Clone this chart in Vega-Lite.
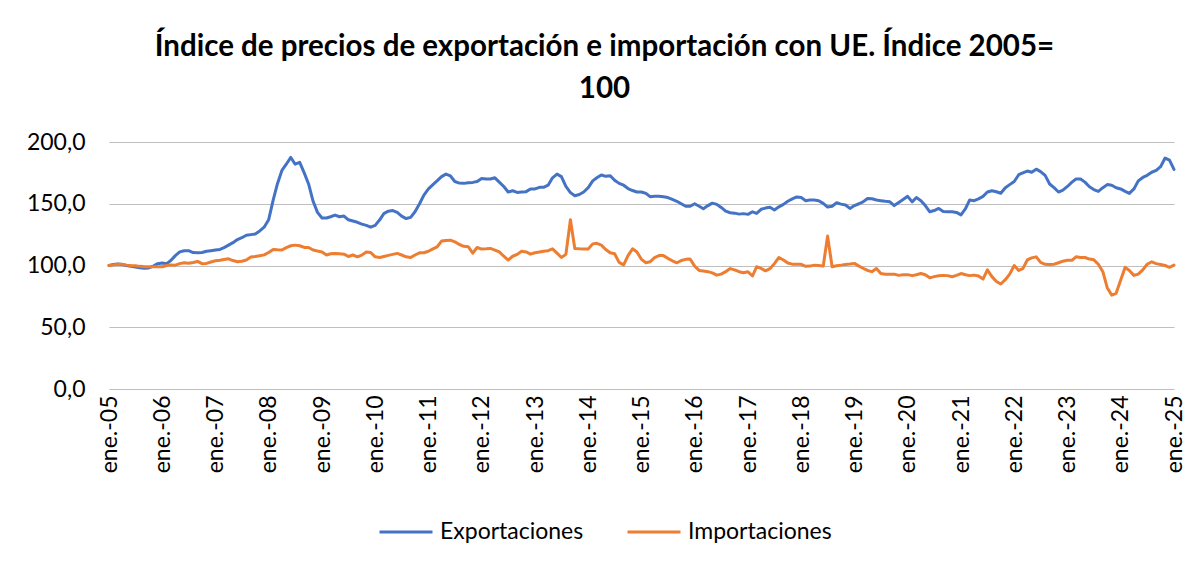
{
  "$schema": "https://vega.github.io/schema/vega-lite/v6.json",
  "autosize": "none",
  "width": 1065,
  "height": 247,
  "padding": {"left": 109, "top": 142, "right": 20, "bottom": 177},
  "background": "white",
  "config": {"view": {"stroke": null}, "font": "Lato"},
  "title": {
    "text": ["Índice de precios de exportación e importación con UE. Índice 2005=", "100"],
    "font": "Lato", "fontSize": 29.5, "fontWeight": "bold", "color": "#000000",
    "anchor": "middle", "frame": "group", "dx": -37, "offset": 27, "lineHeight": 42
  },
  "data": {"values": [
    {"fecha":"2005-01-01","Exportaciones":100,"Importaciones":100},
    {"fecha":"2005-02-01","Exportaciones":100.8,"Importaciones":100.5},
    {"fecha":"2005-03-01","Exportaciones":101.3,"Importaciones":101},
    {"fecha":"2005-04-01","Exportaciones":100.8,"Importaciones":101},
    {"fecha":"2005-05-01","Exportaciones":100,"Importaciones":100.3},
    {"fecha":"2005-06-01","Exportaciones":99.3,"Importaciones":100},
    {"fecha":"2005-07-01","Exportaciones":98.8,"Importaciones":99.8},
    {"fecha":"2005-08-01","Exportaciones":98.2,"Importaciones":99.3},
    {"fecha":"2005-09-01","Exportaciones":97.8,"Importaciones":99},
    {"fecha":"2005-10-01","Exportaciones":98,"Importaciones":99},
    {"fecha":"2005-11-01","Exportaciones":99.5,"Importaciones":99},
    {"fecha":"2005-12-01","Exportaciones":101.5,"Importaciones":99},
    {"fecha":"2006-01-01","Exportaciones":102,"Importaciones":99},
    {"fecha":"2006-02-01","Exportaciones":101.5,"Importaciones":100},
    {"fecha":"2006-03-01","Exportaciones":104,"Importaciones":100.5},
    {"fecha":"2006-04-01","Exportaciones":108,"Importaciones":100.3},
    {"fecha":"2006-05-01","Exportaciones":111,"Importaciones":101.5},
    {"fecha":"2006-06-01","Exportaciones":112,"Importaciones":102.2},
    {"fecha":"2006-07-01","Exportaciones":112,"Importaciones":101.8},
    {"fecha":"2006-08-01","Exportaciones":110.5,"Importaciones":102.5},
    {"fecha":"2006-09-01","Exportaciones":110.3,"Importaciones":103.3},
    {"fecha":"2006-10-01","Exportaciones":110.5,"Importaciones":101.5},
    {"fecha":"2006-11-01","Exportaciones":111.5,"Importaciones":101.7},
    {"fecha":"2006-12-01","Exportaciones":112,"Importaciones":102.8},
    {"fecha":"2007-01-01","Exportaciones":112.5,"Importaciones":103.8},
    {"fecha":"2007-02-01","Exportaciones":113,"Importaciones":104.2},
    {"fecha":"2007-03-01","Exportaciones":114.5,"Importaciones":104.8},
    {"fecha":"2007-04-01","Exportaciones":116.5,"Importaciones":105.4},
    {"fecha":"2007-05-01","Exportaciones":118.5,"Importaciones":104},
    {"fecha":"2007-06-01","Exportaciones":121,"Importaciones":103},
    {"fecha":"2007-07-01","Exportaciones":122.5,"Importaciones":103.5},
    {"fecha":"2007-08-01","Exportaciones":124.5,"Importaciones":104.4},
    {"fecha":"2007-09-01","Exportaciones":125,"Importaciones":106.8},
    {"fecha":"2007-10-01","Exportaciones":125.5,"Importaciones":107.3},
    {"fecha":"2007-11-01","Exportaciones":128,"Importaciones":107.9},
    {"fecha":"2007-12-01","Exportaciones":131,"Importaciones":108.6},
    {"fecha":"2008-01-01","Exportaciones":137,"Importaciones":110.5},
    {"fecha":"2008-02-01","Exportaciones":153,"Importaciones":113},
    {"fecha":"2008-03-01","Exportaciones":166,"Importaciones":112.7},
    {"fecha":"2008-04-01","Exportaciones":177,"Importaciones":112.5},
    {"fecha":"2008-05-01","Exportaciones":182,"Importaciones":114.5},
    {"fecha":"2008-06-01","Exportaciones":187.5,"Importaciones":116},
    {"fecha":"2008-07-01","Exportaciones":182,"Importaciones":116.5},
    {"fecha":"2008-08-01","Exportaciones":183.5,"Importaciones":116},
    {"fecha":"2008-09-01","Exportaciones":175,"Importaciones":114.6},
    {"fecha":"2008-10-01","Exportaciones":166,"Importaciones":114.6},
    {"fecha":"2008-11-01","Exportaciones":152,"Importaciones":112.5},
    {"fecha":"2008-12-01","Exportaciones":143,"Importaciones":111.7},
    {"fecha":"2009-01-01","Exportaciones":138.5,"Importaciones":111},
    {"fecha":"2009-02-01","Exportaciones":138.5,"Importaciones":108.5},
    {"fecha":"2009-03-01","Exportaciones":139.5,"Importaciones":109.5},
    {"fecha":"2009-04-01","Exportaciones":140.8,"Importaciones":109.8},
    {"fecha":"2009-05-01","Exportaciones":139.5,"Importaciones":109.5},
    {"fecha":"2009-06-01","Exportaciones":140,"Importaciones":109.2},
    {"fecha":"2009-07-01","Exportaciones":137,"Importaciones":107.3},
    {"fecha":"2009-08-01","Exportaciones":136,"Importaciones":108.5},
    {"fecha":"2009-09-01","Exportaciones":135,"Importaciones":107},
    {"fecha":"2009-10-01","Exportaciones":133.5,"Importaciones":108.4},
    {"fecha":"2009-11-01","Exportaciones":132.5,"Importaciones":111},
    {"fecha":"2009-12-01","Exportaciones":131,"Importaciones":110.5},
    {"fecha":"2010-01-01","Exportaciones":132.5,"Importaciones":107},
    {"fecha":"2010-02-01","Exportaciones":137,"Importaciones":106.5},
    {"fecha":"2010-03-01","Exportaciones":142,"Importaciones":107.3},
    {"fecha":"2010-04-01","Exportaciones":144,"Importaciones":108.2},
    {"fecha":"2010-05-01","Exportaciones":144.5,"Importaciones":109},
    {"fecha":"2010-06-01","Exportaciones":143,"Importaciones":109.8},
    {"fecha":"2010-07-01","Exportaciones":140,"Importaciones":108.5},
    {"fecha":"2010-08-01","Exportaciones":138,"Importaciones":107},
    {"fecha":"2010-09-01","Exportaciones":139,"Importaciones":106.5},
    {"fecha":"2010-10-01","Exportaciones":143.5,"Importaciones":108.5},
    {"fecha":"2010-11-01","Exportaciones":150,"Importaciones":110.3},
    {"fecha":"2010-12-01","Exportaciones":157,"Importaciones":110.3},
    {"fecha":"2011-01-01","Exportaciones":162,"Importaciones":111.5},
    {"fecha":"2011-02-01","Exportaciones":165.5,"Importaciones":113.5},
    {"fecha":"2011-03-01","Exportaciones":168.5,"Importaciones":115},
    {"fecha":"2011-04-01","Exportaciones":172,"Importaciones":119.8},
    {"fecha":"2011-05-01","Exportaciones":174,"Importaciones":120.3},
    {"fecha":"2011-06-01","Exportaciones":172.5,"Importaciones":120.5},
    {"fecha":"2011-07-01","Exportaciones":168,"Importaciones":119.2},
    {"fecha":"2011-08-01","Exportaciones":166.7,"Importaciones":117},
    {"fecha":"2011-09-01","Exportaciones":166.5,"Importaciones":115.5},
    {"fecha":"2011-10-01","Exportaciones":167,"Importaciones":115.2},
    {"fecha":"2011-11-01","Exportaciones":167.3,"Importaciones":110},
    {"fecha":"2011-12-01","Exportaciones":168,"Importaciones":114.6},
    {"fecha":"2012-01-01","Exportaciones":170.5,"Importaciones":113.3},
    {"fecha":"2012-02-01","Exportaciones":170,"Importaciones":113.5},
    {"fecha":"2012-03-01","Exportaciones":170,"Importaciones":113.8},
    {"fecha":"2012-04-01","Exportaciones":171,"Importaciones":112.5},
    {"fecha":"2012-05-01","Exportaciones":167.5,"Importaciones":111},
    {"fecha":"2012-06-01","Exportaciones":164,"Importaciones":107.5},
    {"fecha":"2012-07-01","Exportaciones":159.5,"Importaciones":104.4},
    {"fecha":"2012-08-01","Exportaciones":160.5,"Importaciones":107.5},
    {"fecha":"2012-09-01","Exportaciones":159.2,"Importaciones":109},
    {"fecha":"2012-10-01","Exportaciones":159.5,"Importaciones":111.5},
    {"fecha":"2012-11-01","Exportaciones":159.8,"Importaciones":111},
    {"fecha":"2012-12-01","Exportaciones":162,"Importaciones":109.2},
    {"fecha":"2013-01-01","Exportaciones":162,"Importaciones":110.3},
    {"fecha":"2013-02-01","Exportaciones":163.3,"Importaciones":111},
    {"fecha":"2013-03-01","Exportaciones":163.3,"Importaciones":111.5},
    {"fecha":"2013-04-01","Exportaciones":165,"Importaciones":112},
    {"fecha":"2013-05-01","Exportaciones":171,"Importaciones":113.5},
    {"fecha":"2013-06-01","Exportaciones":174,"Importaciones":110},
    {"fecha":"2013-07-01","Exportaciones":172,"Importaciones":106.5},
    {"fecha":"2013-08-01","Exportaciones":164,"Importaciones":109},
    {"fecha":"2013-09-01","Exportaciones":159,"Importaciones":137},
    {"fecha":"2013-10-01","Exportaciones":156.5,"Importaciones":113.8},
    {"fecha":"2013-11-01","Exportaciones":157.5,"Importaciones":113.5},
    {"fecha":"2013-12-01","Exportaciones":159.5,"Importaciones":113.3},
    {"fecha":"2014-01-01","Exportaciones":163,"Importaciones":113.3},
    {"fecha":"2014-02-01","Exportaciones":168.5,"Importaciones":117.5},
    {"fecha":"2014-03-01","Exportaciones":171,"Importaciones":118},
    {"fecha":"2014-04-01","Exportaciones":173.3,"Importaciones":116.5},
    {"fecha":"2014-05-01","Exportaciones":172.2,"Importaciones":113},
    {"fecha":"2014-06-01","Exportaciones":172.7,"Importaciones":110.3},
    {"fecha":"2014-07-01","Exportaciones":169,"Importaciones":109.5},
    {"fecha":"2014-08-01","Exportaciones":166.5,"Importaciones":102.5},
    {"fecha":"2014-09-01","Exportaciones":165,"Importaciones":100.5},
    {"fecha":"2014-10-01","Exportaciones":162.3,"Importaciones":108},
    {"fecha":"2014-11-01","Exportaciones":160.7,"Importaciones":113.5},
    {"fecha":"2014-12-01","Exportaciones":159.5,"Importaciones":111},
    {"fecha":"2015-01-01","Exportaciones":159.5,"Importaciones":105},
    {"fecha":"2015-02-01","Exportaciones":158.4,"Importaciones":102.2},
    {"fecha":"2015-03-01","Exportaciones":155.7,"Importaciones":103},
    {"fecha":"2015-04-01","Exportaciones":156,"Importaciones":106.3},
    {"fecha":"2015-05-01","Exportaciones":156,"Importaciones":108},
    {"fecha":"2015-06-01","Exportaciones":155.7,"Importaciones":108},
    {"fecha":"2015-07-01","Exportaciones":155,"Importaciones":105.8},
    {"fecha":"2015-08-01","Exportaciones":153.5,"Importaciones":103.8},
    {"fecha":"2015-09-01","Exportaciones":152,"Importaciones":102.2},
    {"fecha":"2015-10-01","Exportaciones":150,"Importaciones":104},
    {"fecha":"2015-11-01","Exportaciones":148,"Importaciones":105},
    {"fecha":"2015-12-01","Exportaciones":148,"Importaciones":105.3},
    {"fecha":"2016-01-01","Exportaciones":150,"Importaciones":99.5},
    {"fecha":"2016-02-01","Exportaciones":148,"Importaciones":96},
    {"fecha":"2016-03-01","Exportaciones":146,"Importaciones":95.5},
    {"fecha":"2016-04-01","Exportaciones":148.5,"Importaciones":95},
    {"fecha":"2016-05-01","Exportaciones":150.5,"Importaciones":94},
    {"fecha":"2016-06-01","Exportaciones":149.5,"Importaciones":92.2},
    {"fecha":"2016-07-01","Exportaciones":147,"Importaciones":93},
    {"fecha":"2016-08-01","Exportaciones":144,"Importaciones":95},
    {"fecha":"2016-09-01","Exportaciones":142.7,"Importaciones":97.5},
    {"fecha":"2016-10-01","Exportaciones":142.4,"Importaciones":96.5},
    {"fecha":"2016-11-01","Exportaciones":141.6,"Importaciones":95},
    {"fecha":"2016-12-01","Exportaciones":142,"Importaciones":94.1},
    {"fecha":"2017-01-01","Exportaciones":141.4,"Importaciones":94.9},
    {"fecha":"2017-02-01","Exportaciones":143.5,"Importaciones":91.5},
    {"fecha":"2017-03-01","Exportaciones":142.2,"Importaciones":99},
    {"fecha":"2017-04-01","Exportaciones":145.5,"Importaciones":97.6},
    {"fecha":"2017-05-01","Exportaciones":146.5,"Importaciones":95.7},
    {"fecha":"2017-06-01","Exportaciones":147.1,"Importaciones":97.5},
    {"fecha":"2017-07-01","Exportaciones":145,"Importaciones":101.5},
    {"fecha":"2017-08-01","Exportaciones":147.5,"Importaciones":106.5},
    {"fecha":"2017-09-01","Exportaciones":149.5,"Importaciones":104.4},
    {"fecha":"2017-10-01","Exportaciones":152,"Importaciones":102},
    {"fecha":"2017-11-01","Exportaciones":154,"Importaciones":101.1},
    {"fecha":"2017-12-01","Exportaciones":155.5,"Importaciones":101.1},
    {"fecha":"2018-01-01","Exportaciones":155,"Importaciones":101},
    {"fecha":"2018-02-01","Exportaciones":152.5,"Importaciones":99.3},
    {"fecha":"2018-03-01","Exportaciones":153,"Importaciones":99.5},
    {"fecha":"2018-04-01","Exportaciones":153,"Importaciones":100.3},
    {"fecha":"2018-05-01","Exportaciones":152.5,"Importaciones":100},
    {"fecha":"2018-06-01","Exportaciones":150.3,"Importaciones":99.5},
    {"fecha":"2018-07-01","Exportaciones":147.3,"Importaciones":123.8},
    {"fecha":"2018-08-01","Exportaciones":148,"Importaciones":99},
    {"fecha":"2018-09-01","Exportaciones":150.8,"Importaciones":99.8},
    {"fecha":"2018-10-01","Exportaciones":149.7,"Importaciones":100.3},
    {"fecha":"2018-11-01","Exportaciones":149,"Importaciones":100.9},
    {"fecha":"2018-12-01","Exportaciones":146.2,"Importaciones":101.2},
    {"fecha":"2019-01-01","Exportaciones":148.5,"Importaciones":101.7},
    {"fecha":"2019-02-01","Exportaciones":150,"Importaciones":99.5},
    {"fecha":"2019-03-01","Exportaciones":151.5,"Importaciones":97.8},
    {"fecha":"2019-04-01","Exportaciones":154.3,"Importaciones":96},
    {"fecha":"2019-05-01","Exportaciones":154,"Importaciones":95},
    {"fecha":"2019-06-01","Exportaciones":153,"Importaciones":97.5},
    {"fecha":"2019-07-01","Exportaciones":152.5,"Importaciones":93.5},
    {"fecha":"2019-08-01","Exportaciones":152,"Importaciones":93},
    {"fecha":"2019-09-01","Exportaciones":151.6,"Importaciones":93},
    {"fecha":"2019-10-01","Exportaciones":148.5,"Importaciones":93},
    {"fecha":"2019-11-01","Exportaciones":151,"Importaciones":92},
    {"fecha":"2019-12-01","Exportaciones":153.5,"Importaciones":92.5},
    {"fecha":"2020-01-01","Exportaciones":156,"Importaciones":92.6},
    {"fecha":"2020-02-01","Exportaciones":151.5,"Importaciones":91.8},
    {"fecha":"2020-03-01","Exportaciones":155,"Importaciones":92.5},
    {"fecha":"2020-04-01","Exportaciones":152.5,"Importaciones":93.5},
    {"fecha":"2020-05-01","Exportaciones":148.5,"Importaciones":92.5},
    {"fecha":"2020-06-01","Exportaciones":143.5,"Importaciones":90},
    {"fecha":"2020-07-01","Exportaciones":144.5,"Importaciones":91},
    {"fecha":"2020-08-01","Exportaciones":146.2,"Importaciones":91.7},
    {"fecha":"2020-09-01","Exportaciones":143.7,"Importaciones":92},
    {"fecha":"2020-10-01","Exportaciones":143.5,"Importaciones":91.8},
    {"fecha":"2020-11-01","Exportaciones":143.5,"Importaciones":90.9},
    {"fecha":"2020-12-01","Exportaciones":143,"Importaciones":92},
    {"fecha":"2021-01-01","Exportaciones":141,"Importaciones":93.5},
    {"fecha":"2021-02-01","Exportaciones":146,"Importaciones":92.5},
    {"fecha":"2021-03-01","Exportaciones":153,"Importaciones":91.8},
    {"fecha":"2021-04-01","Exportaciones":152.5,"Importaciones":92.2},
    {"fecha":"2021-05-01","Exportaciones":154,"Importaciones":91.5},
    {"fecha":"2021-06-01","Exportaciones":156,"Importaciones":89},
    {"fecha":"2021-07-01","Exportaciones":159.5,"Importaciones":96.5},
    {"fecha":"2021-08-01","Exportaciones":160.5,"Importaciones":91},
    {"fecha":"2021-09-01","Exportaciones":159.7,"Importaciones":87},
    {"fecha":"2021-10-01","Exportaciones":158.5,"Importaciones":85},
    {"fecha":"2021-11-01","Exportaciones":163,"Importaciones":88.5},
    {"fecha":"2021-12-01","Exportaciones":165.5,"Importaciones":93},
    {"fecha":"2022-01-01","Exportaciones":168,"Importaciones":100},
    {"fecha":"2022-02-01","Exportaciones":173.5,"Importaciones":96},
    {"fecha":"2022-03-01","Exportaciones":175,"Importaciones":97.5},
    {"fecha":"2022-04-01","Exportaciones":176.5,"Importaciones":104.5},
    {"fecha":"2022-05-01","Exportaciones":175.5,"Importaciones":106.2},
    {"fecha":"2022-06-01","Exportaciones":178,"Importaciones":107},
    {"fecha":"2022-07-01","Exportaciones":176,"Importaciones":102.5},
    {"fecha":"2022-08-01","Exportaciones":173,"Importaciones":101},
    {"fecha":"2022-09-01","Exportaciones":166,"Importaciones":100.9},
    {"fecha":"2022-10-01","Exportaciones":163,"Importaciones":101},
    {"fecha":"2022-11-01","Exportaciones":159.5,"Importaciones":102.2},
    {"fecha":"2022-12-01","Exportaciones":161,"Importaciones":103.5},
    {"fecha":"2023-01-01","Exportaciones":164,"Importaciones":104.2},
    {"fecha":"2023-02-01","Exportaciones":167.5,"Importaciones":104.2},
    {"fecha":"2023-03-01","Exportaciones":170,"Importaciones":107},
    {"fecha":"2023-04-01","Exportaciones":170,"Importaciones":106.5},
    {"fecha":"2023-05-01","Exportaciones":167.5,"Importaciones":106.5},
    {"fecha":"2023-06-01","Exportaciones":163.8,"Importaciones":105.2},
    {"fecha":"2023-07-01","Exportaciones":161.5,"Importaciones":104.6},
    {"fecha":"2023-08-01","Exportaciones":160,"Importaciones":101},
    {"fecha":"2023-09-01","Exportaciones":163,"Importaciones":95},
    {"fecha":"2023-10-01","Exportaciones":165.5,"Importaciones":82},
    {"fecha":"2023-11-01","Exportaciones":165,"Importaciones":76},
    {"fecha":"2023-12-01","Exportaciones":163,"Importaciones":77.5},
    {"fecha":"2024-01-01","Exportaciones":162,"Importaciones":88},
    {"fecha":"2024-02-01","Exportaciones":160,"Importaciones":98.5},
    {"fecha":"2024-03-01","Exportaciones":158.4,"Importaciones":96},
    {"fecha":"2024-04-01","Exportaciones":162,"Importaciones":92},
    {"fecha":"2024-05-01","Exportaciones":168.5,"Importaciones":93},
    {"fecha":"2024-06-01","Exportaciones":171.3,"Importaciones":96.5},
    {"fecha":"2024-07-01","Exportaciones":173,"Importaciones":101},
    {"fecha":"2024-08-01","Exportaciones":175.5,"Importaciones":103},
    {"fecha":"2024-09-01","Exportaciones":177,"Importaciones":101.5},
    {"fecha":"2024-10-01","Exportaciones":180,"Importaciones":100.8},
    {"fecha":"2024-11-01","Exportaciones":187,"Importaciones":100},
    {"fecha":"2024-12-01","Exportaciones":185.4,"Importaciones":98.5},
    {"fecha":"2025-01-01","Exportaciones":177.8,"Importaciones":100.3}
  ]},
  "transform": [{"fold": ["Exportaciones", "Importaciones"], "as": ["serie", "valor"]}],
  "mark": {"type": "line", "strokeWidth": 3, "strokeJoin": "round", "strokeCap": "round"},
  "encoding": {
    "x": {
      "field": "fecha", "type": "temporal",
      "scale": {"type": "utc", "domain": [{"year": 2005, "month": 1, "date": 1, "utc": true}, {"year": 2025, "month": 1, "date": 1, "utc": true}], "nice": false},
      "axis": {
        "title": null, "grid": false, "domain": false, "ticks": false,
        "tickCount": {"interval": "year", "step": 1},
        "labelExpr": "'ene.-' + utcFormat(datum.value, '%y')",
        "labelAngle": -90, "labelPadding": 6, "labelFont": "Lato", "labelFontSize": 23,
        "labelColor": "#000000", "labelOverlap": false, "labelFlush": false
      }
    },
    "y": {
      "field": "valor", "type": "quantitative",
      "scale": {"domain": [0, 200], "nice": false, "zero": true},
      "axis": {
        "title": null, "values": [0, 50, 100, 150, 200], "domain": false, "ticks": false,
        "grid": true, "gridColor": "#BFBFBF", "gridWidth": 1,
        "labelExpr": "replace(format(datum.value, '.1f'), '.', ',')",
        "labelPadding": 24, "labelFont": "Lato", "labelFontSize": 23, "labelColor": "#000000"
      }
    },
    "color": {
      "field": "serie", "type": "nominal",
      "scale": {"domain": ["Exportaciones", "Importaciones"], "range": ["#4472C4", "#ED7D31"]},
      "legend": {
        "title": null, "orient": "none", "direction": "horizontal",
        "legendX": 269, "legendY": 362,
        "symbolType": "stroke", "symbolSize": 2809, "symbolStrokeWidth": 3,
        "labelFont": "Lato", "labelFontSize": 23, "labelColor": "#000000",
        "labelOffset": 6, "columnPadding": 37
      }
    }
  }
}
